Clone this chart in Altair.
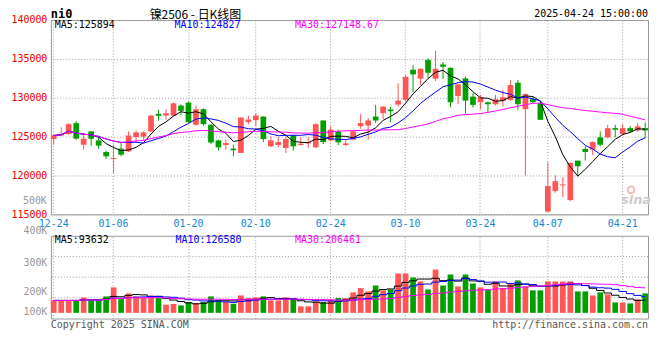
import altair as alt
import pandas as pd

DATES = ["12-24", "12-25", "12-26", "12-27", "12-30", "12-31",
         "01-02", "01-03", "01-06", "01-07", "01-08", "01-09", "01-10", "01-13", "01-14", "01-15",
         "01-16", "01-17", "01-20", "01-21", "01-22", "01-23", "01-24", "01-27",
         "02-05", "02-06", "02-07", "02-10", "02-11", "02-12", "02-13", "02-14", "02-17", "02-18",
         "02-19", "02-20", "02-21", "02-24", "02-25", "02-26", "02-27", "02-28",
         "03-03", "03-04", "03-05", "03-06", "03-07", "03-10", "03-11", "03-12", "03-13", "03-14",
         "03-17", "03-18", "03-19", "03-20", "03-21", "03-24", "03-25", "03-26", "03-27", "03-28", "03-31",
         "04-01", "04-02", "04-03", "04-07", "04-08", "04-09", "04-10", "04-11", "04-14", "04-15",
         "04-16", "04-17", "04-18", "04-21", "04-22", "04-23", "04-24"]

OPEN = [124680, 125150, 125320, 126730, 123960, 125670, 124510, 123020, 122130, 123450,
        123110, 124940, 125000, 125670, 127930, 127710, 127710, 128990, 129370, 126520,
        128520, 126520, 124510, 123920, 123450, 122900, 126860, 127120, 127580, 123750,
        123920, 123530, 125150, 123920, 124130, 123620, 127070, 124520, 125670, 123920,
        124600, 126350, 126430, 127580, 128010, 128480, 129120, 129720, 133600, 132440,
        134870, 132440, 134280, 133850, 130230, 132490, 130140, 129420, 129420, 129160,
        129590, 129720, 131930, 128520, 129800, 129290, 115350, 117990, 118720, 116840,
        121910, 123410, 123320, 124900, 124900, 126090, 125330, 126090, 125790, 126090]
HIGH = [125200, 126180, 126730, 127000, 125450, 125700, 125150, 123200, 123960, 124300,
        125670, 125800, 125670, 127710, 128440, 128500, 129360, 129150, 129500, 128990,
        128650, 126600, 124600, 124600, 123960, 127450, 127710, 128010, 127600, 125030,
        124940, 125030, 125230, 124900, 124900, 126730, 127100, 126310, 125880, 124600,
        125880, 127880, 127370, 129080, 128900, 128860, 131850, 132910, 134190, 133750,
        135050, 136030, 134600, 133900, 131750, 132700, 130570, 130360, 129500, 130360,
        130990, 132270, 132270, 130570, 130060, 129500, 121700, 120000, 119780, 121620,
        121910, 123750, 124390, 125670, 126520, 126520, 126600, 126350, 126730, 126820]
LOW = [123960, 125100, 125250, 124600, 123320, 123840, 123400, 122130, 120330, 122470,
       123020, 124390, 124600, 125580, 127070, 127200, 127580, 127800, 126730, 126400,
       126400, 124040, 123200, 123320, 122470, 122900, 126600, 126300, 124300, 123650,
       123620, 122900, 123190, 123850, 123530, 123530, 124050, 124400, 123880, 123750,
       124520, 126010, 124600, 126730, 127240, 126860, 128860, 129600, 130700, 131630,
       132490, 132150, 132400, 128780, 129160, 128010, 128740, 128520, 128100, 129000,
       128860, 129600, 128440, 120000, 129300, 127160, 115350, 117780, 117230, 116710,
       119910, 121910, 122600, 123750, 124800, 124900, 125150, 125500, 125600, 124810]
CLOSE = [125150, 125320, 126600, 124730, 124730, 124730, 123840, 122470, 122250, 122680,
         125150, 125540, 125540, 127710, 127670, 128000, 129280, 128310, 126860, 128520,
         126600, 124240, 123620, 124170, 123240, 127450, 127200, 127710, 124690, 124520,
         124300, 124690, 123750, 124090, 124260, 126600, 124300, 125880, 124260, 124130,
         125670, 126730, 127070, 127070, 128860, 128270, 129630, 132700, 133000, 133720,
         133210, 133720, 133980, 129420, 131720, 129630, 129080, 130060, 129160, 129800,
         130060, 131630, 129160, 130480, 129420, 127160, 118630, 119270, 118850, 121620,
         121190, 123020, 124300, 123960, 126090, 125880, 126090, 125670, 126310, 125790]
VOLUME = [105000, 105000, 105000, 105000, 130000, 105000, 105000, 139000, 215000, 116000,
          164000, 139000, 125000, 147000, 125000, 69000, 75000, 63000, 91000, 83000,
          91000, 139000, 105000, 91000, 77000, 147000, 125000, 130000, 139000, 105000,
          105000, 130000, 116000, 55000, 55000, 97000, 91000, 111000, 125000, 125000,
          173000, 209000, 181000, 231000, 190000, 198000, 333000, 333000, 299000, 265000,
          198000, 366000, 231000, 324000, 223000, 324000, 248000, 215000, 198000, 265000,
          209000, 246000, 274000, 223000, 190000, 190000, 265000, 265000, 265000, 265000,
          181000, 181000, 147000, 173000, 156000, 88000, 88000, 80000, 114000, 164000]

TICK_DATES = ["12-24", "01-06", "01-20", "02-10", "02-24", "03-10", "03-24", "04-07", "04-21"]
PRICE_TICKS = [115000, 120000, 125000, 130000, 135000, 140000]
VOL_LABEL_VALUES = [11000, 179000, 426000, 651000]
VOL_GRID = [126750, 301500, 476250]

RED = "#ff5555"
GREEN = "#00a000"
AXRED = "#ee0000"
BLUE = "#1487d4"
GRID = "#a0a0a0"
GRAY = "#999999"
MONO = "DejaVu Sans Mono"

df = pd.DataFrame({"i": list(range(len(DATES))), "d": DATES, "o": OPEN, "h": HIGH,
                   "l": LOW, "c": CLOSE, "v": VOLUME})

xscale = alt.Scale(domain=DATES, paddingInner=0.24, paddingOuter=0)
dir_color = alt.Color("dir:N", scale=alt.Scale(domain=["up", "down"], range=[RED, GREEN]), legend=None)
ma_color = alt.Color("ma:N", scale=alt.Scale(domain=["ma5", "ma10", "ma30"],
                                             range=["#000000", "#0000ff", "#ff00ff"]), legend=None)

price_x = alt.X("d:O", scale=xscale,
                axis=alt.Axis(values=TICK_DATES, labels=False, ticks=False, tickSize=0, domain=False,
                              grid=True, gridColor=GRID, gridDash=[1, 2], title=None, bandPosition=0.5))
price_scale = alt.Scale(domain=[115000, 140000], nice=False, zero=False)
price_axis = alt.Axis(values=PRICE_TICKS, tickCount=20, format="d", labelColor=AXRED, labelFont=MONO,
                      labelFontSize=10, ticks=False, tickSize=0, domain=False, grid=True, gridColor=GRID,
                      gridDash=[1, 2], labelPadding=4, labelOverlap=False, title=None)

base = alt.Chart(df).transform_calculate(dir="datum.c >= datum.o ? 'up' : 'down'")


def label(text, x, y, color, size=10, align="left", weight="normal", font=MONO, style="normal",
          baseline="middle"):
    return alt.Chart(pd.DataFrame({"t": [text]})).mark_text(
        align=align, baseline=baseline, font=font, fontSize=size, fontWeight=weight,
        fontStyle=style, color=color).encode(x=alt.value(x), y=alt.value(y), text="t:N")


wicks = base.mark_rule(strokeWidth=1).encode(
    x=price_x, y=alt.Y("l:Q", scale=price_scale, axis=price_axis), y2="h:Q", color=dir_color)
bodies = base.mark_bar().encode(x=price_x, y=alt.Y("o:Q"), y2="c:Q", color=dir_color)

ma_lines = alt.Chart(df).transform_window(
    ma5="mean(c)", frame=[-4, 0], sort=[alt.SortField("i")]
).transform_window(
    ma10="mean(c)", frame=[-9, 0], sort=[alt.SortField("i")]
).transform_window(
    ma30="mean(c)", frame=[-29, 0], sort=[alt.SortField("i")]
).transform_fold(["ma5", "ma10", "ma30"], as_=["ma", "val"]).mark_line(strokeWidth=1).encode(
    x=price_x, y=alt.Y("val:Q"), color=ma_color, order="i:Q")

logo = alt.Chart(pd.DataFrame({"t": [""]})).mark_point(
    shape="circle", filled=False, color="#f2a0a0", size=45, strokeWidth=2).encode(
    x=alt.value(582), y=alt.value(170.5))

price = alt.layer(
    wicks, bodies, ma_lines,
    label("ni0", 0, -1.5, "#000000", size=12, weight="bold", baseline="alphabetic"),
    label("镍2506 - 日K线图", 145, -0.5, "#000000", size=12, align="center",
          font="Noto Sans CJK SC", baseline="alphabetic"),
    label("2025-04-24 15:00:00", 599, -2.5, "#000000", align="right", baseline="alphabetic"),
    label("MA5:125894", 4, 5.5, "#000000"),
    label("MA10:124827", 124, 5.5, "#0000ff"),
    label("MA30:127148.67", 245, 5.5, "#ff00ff"),
    label("500K", -4, 181.5, GRAY, align="right"),
    logo,
    label("sina", 587, 181, "#cccccc", size=13, align="center", weight="bold", font="DejaVu Sans", style="italic"),
).resolve_scale(color="independent").properties(width=599, height=195)

vol_x = alt.X("d:O", scale=xscale,
              axis=alt.Axis(values=TICK_DATES, orient="top", labelColor=BLUE, labelFont=MONO, labelFontSize=10,
                            labelPadding=7, labelAngle=0, ticks=False, tickSize=0, domain=False, grid=True,
                            gridColor=GRID, gridDash=[1, 2], title=None, bandPosition=0.5))
vol_scale = alt.Scale(domain=[-48000, 651000], nice=False, zero=False)
vol_axis = alt.Axis(values=VOL_LABEL_VALUES, tickCount=20,
                    labelExpr="datum.value > 600000 ? '400K' : datum.value > 300000 ? '300K' : "
                              "datum.value > 100000 ? '200K' : '100K'",
                    labelColor=GRAY, labelFont=MONO, labelFontSize=10, ticks=False, tickSize=0,
                    domain=False, grid=False, title=None, labelPadding=4, labelOverlap=False,
                    labelBaseline={"condition": {"test": "datum.value > 600000", "value": "bottom"},
                                   "value": "middle"})

vol_grid = alt.Chart(pd.DataFrame({"g": VOL_GRID})).mark_rule(
    color=GRID, strokeDash=[1, 2], strokeWidth=1).encode(y=alt.Y("g:Q", scale=vol_scale, axis=vol_axis))
vol_bars = base.mark_bar().encode(x=vol_x, y=alt.Y("v:Q"), y2=alt.datum(0), color=dir_color)
vol_ma = alt.Chart(df).transform_window(
    ma5="mean(v)", frame=[-4, 0], sort=[alt.SortField("i")]
).transform_window(
    ma10="mean(v)", frame=[-9, 0], sort=[alt.SortField("i")]
).transform_window(
    ma30="mean(v)", frame=[-29, 0], sort=[alt.SortField("i")]
).transform_fold(["ma5", "ma10", "ma30"], as_=["ma", "val"]).mark_line(
    strokeWidth=1, interpolate="step").encode(x=vol_x, y=alt.Y("val:Q"), color=ma_color, order="i:Q")

volume = alt.layer(
    vol_grid, vol_bars, vol_ma,
    label("MA5:93632", 4, 4.3, "#000000"),
    label("MA10:126580", 125, 4.3, "#0000ff"),
    label("MA30:206461", 245, 4.3, "#ff00ff"),
    label("Copyright 2025 SINA.COM", 0, 89, "#555555"),
    label("http://finance.sina.com.cn", 599, 89, "#555555", align="right"),
).resolve_scale(color="independent").properties(width=599, height=83)

chart = alt.vconcat(price, volume, spacing=-2.5).properties(
    padding={"left": 2, "top": -0.5, "right": 0, "bottom": 0}
).configure_view(stroke="#999999", strokeWidth=1)

chart.save("out.html", embed_options={"renderer": "svg", "actions": False})
